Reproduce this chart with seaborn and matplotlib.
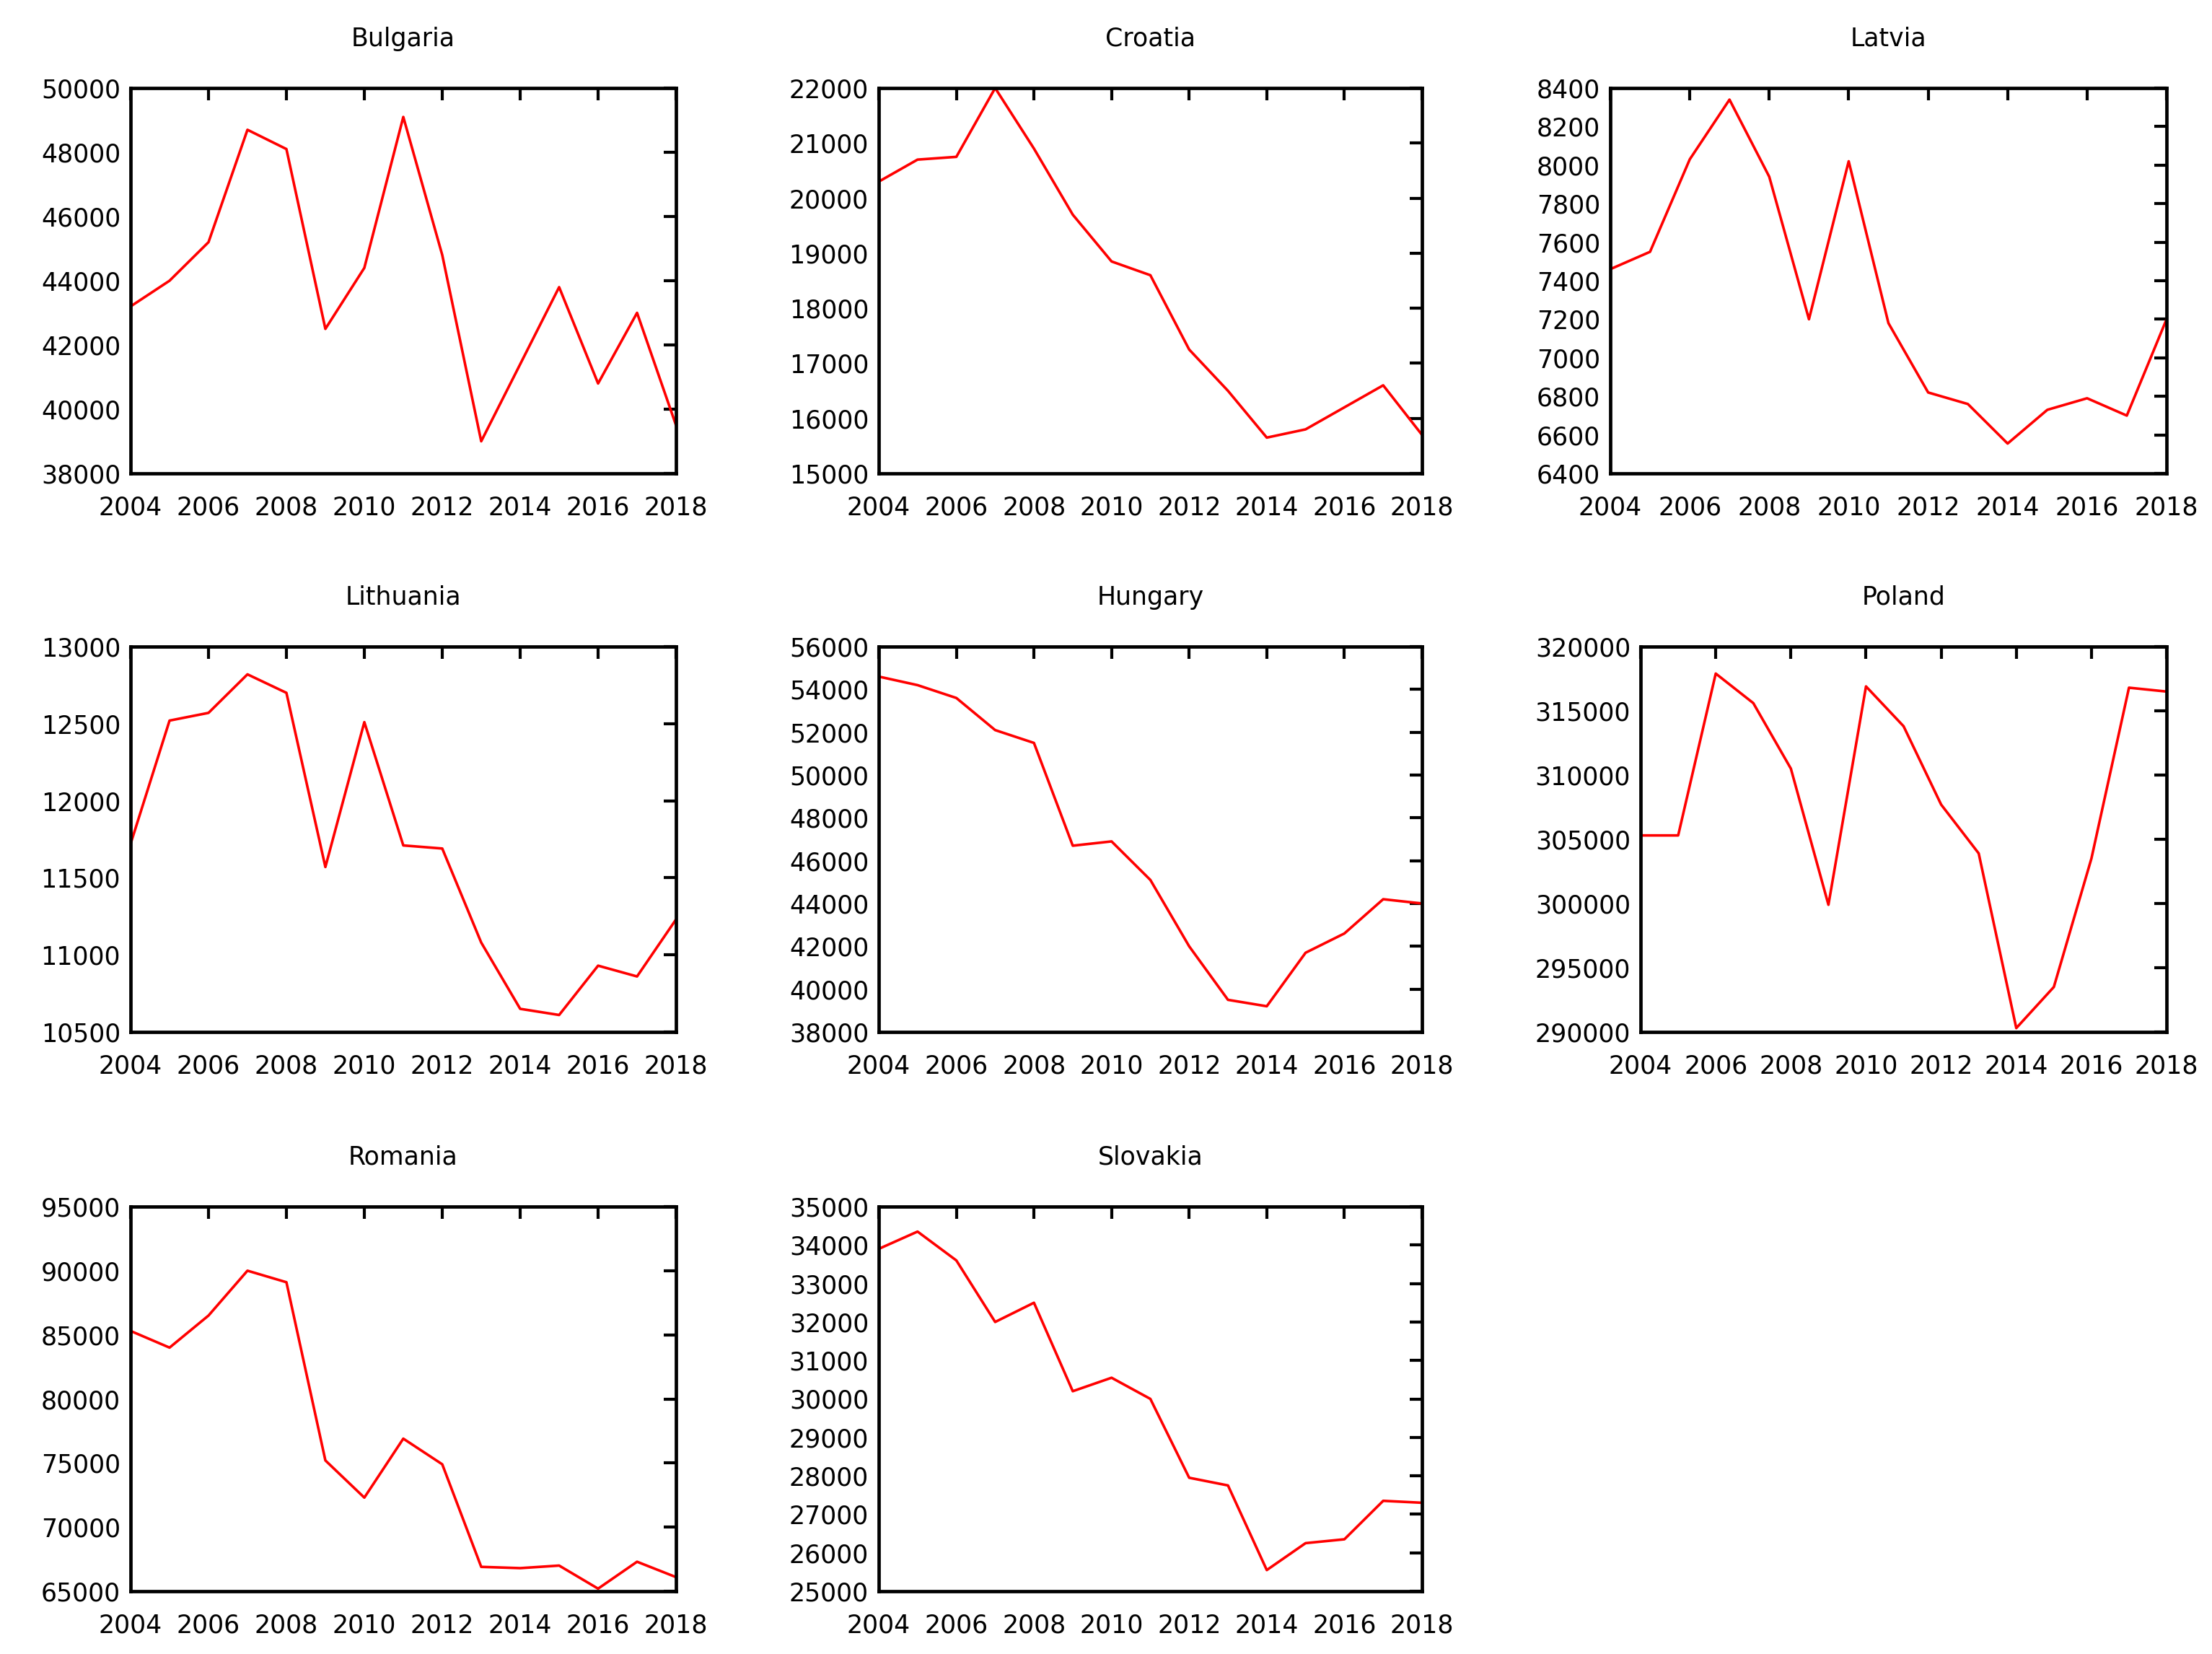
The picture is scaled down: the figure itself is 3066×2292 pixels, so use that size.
import matplotlib
matplotlib.use("Agg")
import matplotlib.pyplot as plt
import seaborn as sns
import pandas as pd
import numpy as np

years = list(range(2004, 2019))

bulgaria = [43200, 44000, 45200, 48700, 48100, 42500, 44400, 49100, 44800, 39000, 41400, 43800, 40800, 43000, 39500]
croatia = [20300, 20700, 20750, 22000, 20900, 19700, 18850, 18600, 17250, 16500, 15650, 15800, 16200, 16600, 15700]
latvia = [7460, 7550, 8030, 8340, 7940, 7200, 8020, 7180, 6820, 6760, 6555, 6730, 6790, 6700, 7200]
lithuania = [11720, 12520, 12570, 12820, 12700, 11570, 12510, 11710, 11690, 11080, 10650, 10610, 10930, 10860, 11230]
hungary = [54600, 54200, 53600, 52100, 51500, 46700, 46900, 45100, 42000, 39500, 39200, 41700, 42600, 44200, 44000]
poland = [305300, 305300, 317900, 315600, 310500, 299900, 316900, 313800, 307700, 303900, 290300, 293500, 303500, 316800, 316500]
romania = [85300, 84000, 86500, 90000, 89100, 75200, 72300, 76900, 74900, 66900, 66800, 67000, 65200, 67300, 66100]
slovakia = [33900, 34350, 33600, 32000, 32500, 30200, 30550, 30000, 27950, 27750, 25550, 26250, 26350, 27350, 27300]

titles = ["Bulgaria", "Croatia", "Latvia", "Lithuania", "Hungary", "Poland", "Romania", "Slovakia"]
series = [bulgaria, croatia, latvia, lithuania, hungary, poland, romania, slovakia]
y_limits = [(38000, 50000), (15000, 22000), (6400, 8400), (10500, 13000),
            (38000, 56000), (290000, 320000), (65000, 95000), (25000, 35000)]
y_steps = [2000, 1000, 200, 500, 2000, 5000, 5000, 1000]
x_ticks = list(range(2004, 2019, 2))

sns.set_style("white")
plt.rcParams['font.family'] = ['DejaVu Sans']

W, H = 3066, 2292
fig = plt.figure(figsize=(W / 200, H / 200), dpi=200)

# axes boxes in pixels: (left, right, top, bottom)
cols = [(181, 937), (1218, 1971), (2232, 3003)]
col3_row2_left = 2274
rows = [(122, 656), (896, 1430), (1672, 2205)]

positions = []
for i in range(8):
    r, c = divmod(i, 3)
    left, right = cols[c]
    if i == 5:
        left = col3_row2_left
    top, bottom = rows[r]
    positions.append([left / W, 1 - bottom / H, (right - left) / W, (bottom - top) / H])

for i in range(8):
    ax = fig.add_axes(positions[i])
    df = pd.DataFrame({"year": years, "value": series[i]})
    sns.lineplot(data=df, x="year", y="value", ax=ax, color="#ff0000", linewidth=1.3)
    ax.set_xlim(2004, 2018)
    lo, hi = y_limits[i]
    ax.set_ylim(lo, hi)
    ax.set_xticks(x_ticks)
    ax.set_yticks(np.arange(lo, hi + 1, y_steps[i]))
    ax.set_xlabel("")
    ax.set_ylabel("")
    ax.set_title(titles[i], fontsize=12.5, pad=21, color="black")
    for s in ax.spines.values():
        s.set_visible(True)
        s.set_linewidth(1.7)
        s.set_color("black")
    ax.tick_params(axis="both", direction="in", length=6, width=1.5,
                   top=True, right=True, labelsize=12.5, colors="black")
    ax.tick_params(axis="x", pad=11)
    ax.tick_params(axis="y", pad=5)

fig.savefig("out.png", dpi=200, facecolor="white")
